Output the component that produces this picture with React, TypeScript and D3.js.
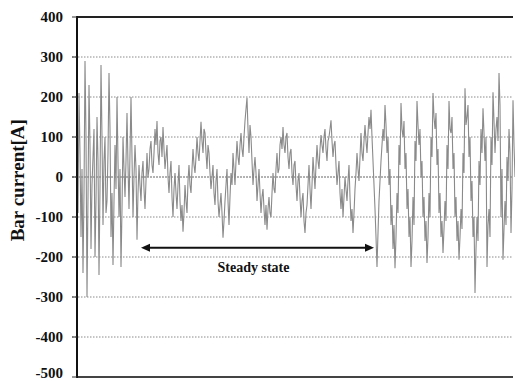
import React from 'react';
import * as d3 from 'd3';

// bar current samples, about one per pixel
const startup = [
  0, -90, 210, 60, -150, 20, -240, -40, 290, 100, -300, -50, 230, 80, -180, -20,
  50, 120, -200, -60, 150, 40, -245, -30, 280, 100, -120, 40, 100, -90, -60, 60,
  260, 120, -150, -40, -220, -60, 80, -30, 200, 40, -100, 20, -225, -80, 100, 20,
  -50, 40, 160, 30, -80, 60, 200, 50, -100, 0, 80, 20, -157, -40, 30, -20,
];
const steady = [
  -60, 10, 40, -30, -80, -10, 60, 0, 20, 70, 90, 30, 10, 60, 120, 80,
  140, 60, 30, 90, 100, 50, 125, 70, 20, 50, 80, 0, -40, 10, 40, -50,
  -100, -30, 10, -40, -80, -20, 30, -60, -110, -70, -137, -90, -20, -60, -90, -10,
  30, -20, -40, 20, 70, 30, 10, 50, 100, 60, 40, 90, 138, 90, 60, 120,
  110, 60, 20, 80, 60, 10, -30, 0, 30, -40, -70, -10, 20, -60, -100, -70,
  -40, -90, -152, -110, -60, -20, 20, -60, -120, -50, 10, -20, 60, 20, -20, 40,
  90, 50, 30, 80, 110, 70, 50, 100, 140, 170, 198, 120, 60, 130, 100, 40,
  -20, 20, 50, 10, -60, -20, 20, -40, -90, -50, -30, -80, -120, -70, -132, -80,
  -50, -90, -100, -40, 10, -30, -40, 20, 60, 10, 20, 80, 100, 70, 125, 80,
  60, 100, 110, 50, 20, 60, 70, 10, -20, 30, 40, -20, -60, -10, 10, -50,
  -100, -60, -40, -110, -140, -90, -70, -20, 30, -30, -80, -20, 50, 10, -30, 30,
  80, 40, 20, 70, 105, 80, 60, 100, 120, 70, 40, 90, 100, 120, 142, 90,
  50, 80, 90, 30, -20, 10, 40, -40, -80, -30, -100, -50, 0, -30, -60, -10,
  30, -50, -110, -80, -140, -90, -30, 10, 60, 20, -10, 50, 110, 60, 40, 90,
  130, 90, 60, 110, 150, 120, 168, 100, 40, -20, -80, -150,
];
const afterSteady = [
  -225, -140, -60, -10, 40, 80, 120, 90, 180, 130, 60, 100, -20, 20, -120, -70,
  -180, -120, -228, -150, -40, -90, 80, 30, 185, 120, 100, 140, 20, 60, -80, -30,
  -150, -100, -225, -160, -50, -120, 90, 40, 190, 130, 80, 120, 0, 40, -100, -50,
  -160, -110, -215, -150, -40, -100, 100, 50, 210, 150, 120, 160, 30, 70, -90, -40,
  -150, -110, -190, -130, -60, -110, 80, 20, 190, 120, 110, 150, 20, 60, -100, -50,
  -160, -110, -207, -150, -80, -130, 60, 10, 222, 130, 150, 180, 50, 100, -60, -10,
  -150, -100, -290, -180, -100, -160, 40, -20, 120, 60, 172, 110, 40, 100, -225, -120,
  -80, -150, 100, 30, 212, 140, 60, 120, 150, 90, 260, 180, -100, 20, -207, -130,
  -60, -120, 50, -10, 120, 60, -140, -30, 192, 80, 0,
];

const yTicks = [400, 300, 200, 100, 0, -100, -200, -300, -400, -500];
const gridValues = [300, 200, 100, -100, -200, -300, -400];
const yTitle = 'Bar current[A]';
const noteLabel = 'Steady state';
const arrowValue = -177;

const W = 515;
const H = 381;
const serif = '"Liberation Serif", "Times New Roman", Times, serif';

export default function App() {
  const current = [...startup, ...steady, ...afterSteady];
  const steadyStart = startup.length;
  const steadyEnd = startup.length + steady.length - 3;

  const x = d3.scaleLinear().domain([0, current.length - 1]).range([77, 515]);
  const y = d3.scaleLinear().domain([-500, 400]).range([377, 17]);

  const line = d3.line<number>()
    .x((_, i) => x(i))
    .y(d => y(d));

  const ay = y(arrowValue);
  const ax0 = x(steadyStart);
  const ax1 = x(steadyEnd);
  const txt = { fontFamily: serif, fontWeight: 'bold' as const };

  return (
    <svg width={W} height={H} style={{ position: 'absolute', left: 0, top: 0, background: '#fff' }}>
      {/* dotted grid */}
      {gridValues.map(v => (
        <line key={v} x1={72} x2={513} y1={y(v)} y2={y(v)}
          stroke="#8a8a8a" strokeWidth={1} strokeDasharray="1.5,1.5" />
      ))}
      <line x1={72} x2={513} y1={y(0)} y2={y(0)} stroke="#666" strokeWidth={1} strokeDasharray="2,1" />

      {/* current trace */}
      <path d={line(current) || ''} fill="none" stroke="#8a8a8a" strokeWidth={1.1} />

      {/* frame */}
      <line x1={77} x2={513} y1={y(400)} y2={y(400)} stroke="#222" strokeWidth={2} />
      <line x1={77} x2={513} y1={y(-500)} y2={y(-500)} stroke="#444" strokeWidth={2} />
      <line x1={77} x2={77} y1={y(400) - 1} y2={y(-500) + 1} stroke="#111" strokeWidth={2} />

      {/* ticks and labels (bottom one nudged up to stay inside the page) */}
      {yTicks.map(v => (
        <g key={v}>
          <line x1={72} x2={77} y1={y(v)} y2={y(v)} stroke="#333" strokeWidth={1} />
          <text x={63} y={Math.min(y(v), H - 8)} dy="0.35em" textAnchor="end"
            style={{ ...txt, fontSize: 15 }} fill="#111">{v}</text>
        </g>
      ))}

      <text transform={`translate(24,${y(-8)}) rotate(-90)`} textAnchor="middle"
        style={{ ...txt, fontSize: 19 }} fill="#111">{yTitle}</text>

      {/* steady state arrow */}
      <line x1={ax0 + 6} x2={ax1 - 6} y1={ay} y2={ay} stroke="#111" strokeWidth={2} />
      <path d={`M${ax0},${ay} L${ax0 + 9},${ay - 4} L${ax0 + 9},${ay + 4} Z`} fill="#111" />
      <path d={`M${ax1},${ay} L${ax1 - 9},${ay - 4} L${ax1 - 9},${ay + 4} Z`} fill="#111" />
      <text x={(ax0 + ax1) / 2 - 4} y={ay + 24} textAnchor="middle"
        style={{ ...txt, fontSize: 14 }} fill="#111">{noteLabel}</text>
    </svg>
  );
}
